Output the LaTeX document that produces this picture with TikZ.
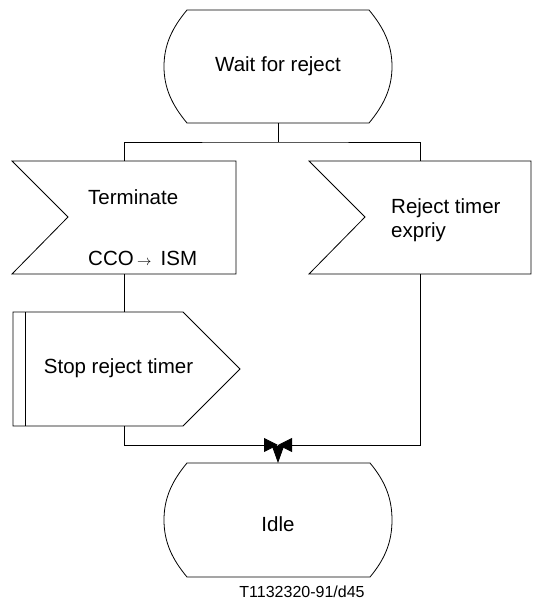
\documentclass[tikz,border=0pt]{standalone}
\usepackage{fontspec}
\setmainfont{Liberation Sans}
\usetikzlibrary{arrows.meta,calc}
\begin{document}
\begin{tikzpicture}[x=1pt,y=-1pt,
  outline/.style={draw=black,line width=0.8pt},
  conn/.style={draw=black,line width=0.8pt},
  lbl/.style={inner sep=0pt,font=\fontsize{20.5}{24}\selectfont},
  hb/.style={inner sep=0pt,minimum width=#1,draw=none},
  tipin/.style={-{Triangle[length=14pt,width=14pt]}},
  tipdown/.style={-{Triangle[length=17pt,width=12pt]}}
]
\useasboundingbox (0,0) rectangle (534,605);
% --- state: Wait for reject
\path[outline,fill=white] (187,10) -- (369,10) .. controls (384,28) and (392,45) .. (392,66.5)
  .. controls (392,88) and (384,105) .. (369,123) -- (187,123)
  .. controls (172,105) and (164,88) .. (164,66.5) .. controls (164,45) and (172,28) .. (187,10) -- cycle;
\node[lbl] (wait) at (278,66.5) {Wait for reject};
\coordinate (waitS) at (278,123);
% --- input: Terminate
\path[outline] (12,161) -- (236,161) -- (236,274) -- (12,274) -- (68,217) -- cycle;
\node[lbl,anchor=west] (term) at (88,197) {Terminate};
\node[lbl,anchor=west] (cco) at (88,258) {CCO\,{\fontsize{14}{14}\selectfont$\rightarrow$}\, ISM};
\coordinate (termN) at (124,161);
\coordinate (termS) at (124,274);
% --- input: Reject timer expiry
\path[outline] (309,161) -- (531,161) -- (531,274) -- (309,274) -- (365,217) -- cycle;
\node[lbl,anchor=west,align=left] (rej) at (391,220) {Reject timer\\expriy};
\coordinate (rejN) at (420,161);
\coordinate (rejS) at (420,274);
% --- task: Stop reject timer
\path[outline] (13,312) -- (183,312) -- (240,369) -- (183,426) -- (13,426) -- cycle;
\draw[outline] (25,312) -- (25,426);
\node[lbl] (stop) at (118.5,368) {Stop reject timer};
\coordinate (stopN) at (124,312);
\coordinate (stopS) at (124,426);
% --- state: Idle
\path[outline] (187,463) -- (370,463) .. controls (385,481) and (392,498) .. (392,520)
  .. controls (392,542) and (385,559) .. (370,577) -- (187,577)
  .. controls (172,559) and (164,542) .. (164,520) .. controls (164,498) and (172,481) .. (187,463) -- cycle;
\node[lbl] (idle) at (278,524) {Idle};
\coordinate (idleN) at (278,463);
% --- caption
\node[inner sep=0pt,font=\fontsize{16}{18}\selectfont] (cap) at (302,592) {T1132320-91/d45};
% --- connectors
\coordinate (split) at (278,142);
\coordinate (merge) at (278,445);
\draw[conn] (waitS) -- (split);
\draw[conn] (termN) |- (split) -| (rejN);
\draw[conn] (termS) -- (stopN);
\draw[conn,tipin] (stopS) |- (merge);
\draw[conn,tipin] (rejS) |- (merge);
\draw[conn,tipdown] (merge) -- (idleN);
\end{tikzpicture}
\end{document}
